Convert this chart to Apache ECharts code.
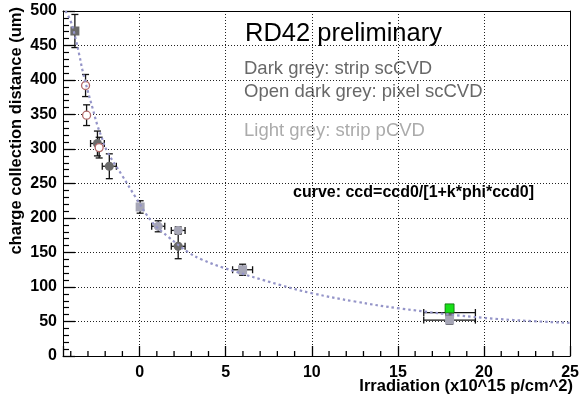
<!DOCTYPE html>
<html><head><meta charset="utf-8">
<script src="https://cdn.jsdelivr.net/npm/echarts@6/dist/echarts.min.js"></script>
<style>html,body{margin:0;padding:0;background:#fff}#c{width:582px;height:396px}</style>
</head><body><div id="c"></div>
<script>
// Tick positions
const xTicks = [0, 5, 10, 15, 20, 25];
const xGrid = [0, 5, 10, 15, 20];
const xMinorTicks = [-4,-3,-2,-1,1,2,3,4,6,7,8,9,11,12,13,14,16,17,18,19,21,22,23,24];

// Fitted curve
const curveX = [-4.3, -4.0, -3.7, -3.5, -3.3, -3.0, -2.73, -2.45, -2.25, -1.87, -1.0, -0.23, 0.73, 1.7, 2.85, 3.6, 4.86, 8.15, 10, 12.5, 15.1, 20.1, 25];
const curveY = [500, 485, 458, 436, 412, 383, 359, 334, 320, 296, 261, 230, 194, 172, 150, 140, 128, 103, 91, 79, 69, 55, 48];

// Dark grey: strip scCVD
const darkX = [-3.76, -2.45, -1.76, 2.24, 18.0];
const darkY = [471, 308, 275, 159, 63];
const darkXErr = [0, 0.4, 0.41, 0.4, 1.5];
const darkYErr = [24, 18, 18, 18, 5];
const darkShape = ['rect', 'circle', 'circle', 'circle', 'rect'];

// Open dark grey: pixel scCVD
const openX = [-3.14, -3.08, -2.35];
const openY = [392, 349, 302];
const openXErr = [0, 0, 0];
const openYErr = [16, 15, 15];

// Light grey: strip pCVD
const lightX = [0.03, 1.08, 2.24, 5.98, 18.0];
const lightY = [216, 188, 182, 125, 52];
const lightXErr = [0, 0.38, 0.4, 0.58, 1.5];
const lightYErr = [9, 8, 5, 8, 6];
const lightShape = ['rect', 'circle', 'circle', 'rect', 'rect'];

// Green point
const greenX = [18.0];
const greenY = [69];
const greenXErr = [0];
const greenYErr = [4];

const XMIN = -4.45, XMAX = 25, YMIN = 0, YMAX = 500;

const chart = echarts.init(document.getElementById('c'), null, {renderer: 'canvas'});

function errSeries(xs, ys, xe, ye, z) {
  return {
    type: 'custom', z: z, silent: true, clip: false,
    encode: {x: 0, y: 1},
    data: xs.map((x, i) => [x, ys[i], xe[i], ye[i]]),
    renderItem: function (params, api) {
      const x = api.value(0), y = api.value(1), ex = api.value(2), ey = api.value(3);
      const c = api.coord([x, y]);
      const ch = [];
      const cap = 3.5;
      const st = {stroke: '#111', lineWidth: 1.3};
      if (ey > 0) {
        const t = api.coord([x, y + ey]), b = api.coord([x, y - ey]);
        ch.push({type: 'line', shape: {x1: c[0], y1: t[1], x2: c[0], y2: b[1]}, style: st});
        ch.push({type: 'line', shape: {x1: c[0] - cap, y1: t[1], x2: c[0] + cap, y2: t[1]}, style: st});
        ch.push({type: 'line', shape: {x1: c[0] - cap, y1: b[1], x2: c[0] + cap, y2: b[1]}, style: st});
      }
      if (ex > 0) {
        const l = api.coord([x - ex, y]), r = api.coord([x + ex, y]);
        ch.push({type: 'line', shape: {x1: l[0], y1: c[1], x2: r[0], y2: c[1]}, style: st});
        ch.push({type: 'line', shape: {x1: l[0], y1: c[1] - cap, x2: l[0], y2: c[1] + cap}, style: st});
        ch.push({type: 'line', shape: {x1: r[0], y1: c[1] - cap, x2: r[0], y2: c[1] + cap}, style: st});
      }
      return {type: 'group', children: ch};
    }
  };
}

// x-axis minor ticks drawn as short error-bar-like segments through the scale
const minorTickSeries = {
  type: 'custom', z: 6, silent: true, clip: false,
  encode: {x: 0, y: 1},
  data: xMinorTicks.map(v => [v, 3.6, 0, 3.6]),
  renderItem: function (params, api) {
    const x = api.value(0), y = api.value(1), ey = api.value(3);
    const t = api.coord([x, y + ey]), b = api.coord([x, y - ey]);
    return {type: 'line', shape: {x1: t[0], y1: t[1], x2: b[0], y2: b[1]}, style: {stroke: '#000', lineWidth: 1.3}};
  }
};

const FONT = '"Liberation Sans", Arial, sans-serif';

const option = {
  animation: false,
  backgroundColor: '#fff',
  grid: {left: 63, right: 10, top: 11, bottom: 40, show: false, containLabel: false},
  xAxis: [{
    type: 'value', min: XMIN, max: XMAX, position: 'bottom',
    axisLine: {show: true, onZero: false, lineStyle: {color: '#000', width: 1}},
    axisTick: {show: true, inside: true, length: 10, lineStyle: {color: '#000', width: 1.3}},
    minorTick: {show: false},
    axisLabel: {show: true, margin: 9, color: '#000', fontSize: 16, fontWeight: 'bold', fontFamily: FONT,
      formatter: v => (xTicks.indexOf(v) >= 0 ? String(v) : '')},
    splitLine: {show: true, lineStyle: {color: '#222', type: [1, 2], width: 1}}
  }, {
    type: 'value', min: XMIN, max: XMAX, position: 'top',
    axisLine: {show: true, onZero: false, lineStyle: {color: '#000', width: 1}},
    axisTick: {show: false}, axisLabel: {show: false}, splitLine: {show: false}
  }],
  yAxis: [{
    type: 'value', min: YMIN, max: YMAX, interval: 50, position: 'left',
    axisLine: {show: true, onZero: false, lineStyle: {color: '#000', width: 1}},
    axisTick: {show: true, inside: true, length: 12, lineStyle: {color: '#000', width: 1.3}},
    minorTick: {show: true, splitNumber: 5, length: 6, lineStyle: {color: '#000', width: 1.2}},
    axisLabel: {margin: 6, color: '#000', fontSize: 16, fontWeight: 'bold', fontFamily: FONT},
    splitLine: {show: true, lineStyle: {color: '#222', type: [1, 2], width: 1}}
  }, {
    type: 'value', min: YMIN, max: YMAX, position: 'right',
    axisLine: {show: true, onZero: false, lineStyle: {color: '#000', width: 1}},
    axisTick: {show: false}, axisLabel: {show: false}, splitLine: {show: false}
  }],
  series: [
    errSeries(darkX, darkY, darkXErr, darkYErr, 2),
    errSeries(openX, openY, openXErr, openYErr, 2),
    errSeries(lightX, lightY, lightXErr, lightYErr, 2),
    errSeries(greenX, greenY, greenXErr, greenYErr, 2),
    {
      type: 'scatter', z: 3, silent: true,
      data: darkX.map((x, i) => ({value: [x, darkY[i]], symbol: darkShape[i]})),
      symbolSize: 9,
      itemStyle: {color: '#6a6a6a', opacity: 1}
    },
    {
      type: 'scatter', z: 3, silent: true,
      data: openX.map((x, i) => [x, openY[i]]),
      symbol: 'circle', symbolSize: 8,
      itemStyle: {color: '#fff', borderColor: '#b06868', borderWidth: 1.3, opacity: 1}
    },
    {
      type: 'scatter', z: 3, silent: true,
      data: lightX.map((x, i) => ({value: [x, lightY[i]], symbol: lightShape[i]})),
      symbolSize: 9,
      itemStyle: {color: '#a6a6b6', opacity: 1}
    },
    {
      type: 'scatter', z: 3, silent: true,
      data: greenX.map((x, i) => [x, greenY[i]]),
      symbol: 'rect', symbolSize: 9,
      itemStyle: {color: '#18e018', borderColor: '#0a6a0a', borderWidth: 0.8, opacity: 1}
    },
    {
      type: 'line', z: 4, silent: true, smooth: 0.4, showSymbol: false, symbol: 'none',
      data: curveX.map((x, i) => [x, curveY[i]]),
      lineStyle: {color: '#9494c8', width: 2.2, type: [2.5, 3]},
      clip: true
    },
    minorTickSeries
  ],
  graphic: [
    {type: 'text', x: 245, y: 34, style: {text: 'RD42 preliminary', font: '25.5px ' + FONT, fill: '#000', textAlign: 'left', textVerticalAlign: 'middle'}},
    {type: 'text', x: 244, y: 69, style: {text: 'Dark grey: strip scCVD', font: '18.5px ' + FONT, fill: '#686868', textAlign: 'left', textVerticalAlign: 'middle'}},
    {type: 'text', x: 244, y: 92, style: {text: 'Open dark grey: pixel scCVD', font: '18.5px ' + FONT, fill: '#686868', textAlign: 'left', textVerticalAlign: 'middle'}},
    {type: 'text', x: 244, y: 131, style: {text: 'Light grey: strip pCVD', font: '18.5px ' + FONT, fill: '#ababab', textAlign: 'left', textVerticalAlign: 'middle'}},
    {type: 'text', x: 293, y: 193, style: {text: 'curve: ccd=ccd0/[1+k*phi*ccd0]', font: 'bold 16px ' + FONT, fill: '#000', textAlign: 'left', textVerticalAlign: 'middle'}},
    {type: 'text', x: 573, y: 386, style: {text: 'Irradiation (x10^15 p/cm^2)', font: 'bold 16.5px ' + FONT, fill: '#000', textAlign: 'right', textVerticalAlign: 'middle'}},
    {type: 'text', x: 16, y: 7, rotation: Math.PI / 2, style: {text: 'charge collection distance (um)', font: 'bold 16.5px ' + FONT, fill: '#000', textAlign: 'right', textVerticalAlign: 'middle'}}
  ]
};
chart.setOption(option);
</script>
</body></html>
